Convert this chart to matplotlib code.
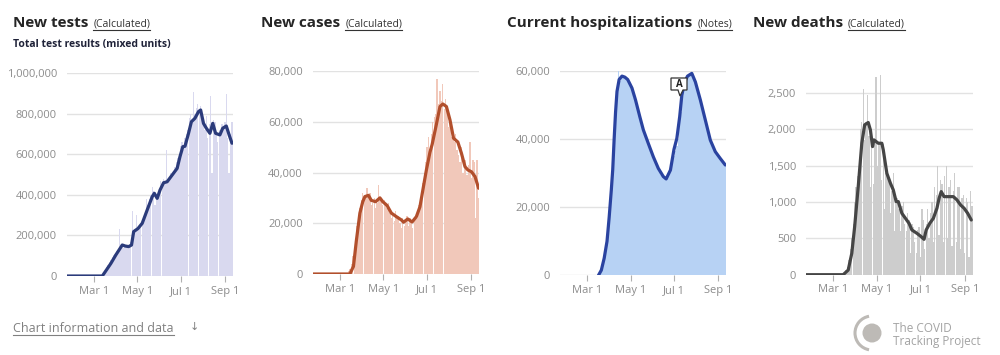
# -*- coding: utf-8 -*-

import numpy as np
import matplotlib
matplotlib.use('Agg')
import matplotlib.pyplot as plt
from matplotlib.ticker import FuncFormatter
from matplotlib.patches import Circle, Arc, Polygon

plt.rcParams['font.family'] = ['Open Sans', 'DejaVu Sans']

#-------------------------------------------------------
# days counted from Jan 1 2020 (Mar 1 = 60)
tick_days = [60, 121, 182, 244]
tick_labels = ['Mar 1', 'May 1', 'Jul 1', 'Sep 1']

# daily bars, one value every 2 days from Mar 1 to Sep 10
bar_days = np.arange(60, 255, 2)

# New tests (thousands)
tests_bars = [0, 0, 0, 0, 0, 0, 5, 15, 30, 45,
              55, 70, 80, 95, 105, 110, 125, 130, 230, 150,
              160, 140, 150, 145, 150, 140, 170, 320, 210, 230,
              300, 230, 240, 255, 270, 280, 300, 380, 350, 380,
              400, 440, 420, 350, 390, 400, 430, 470, 450, 480,
              470, 620, 480, 490, 510, 500, 520, 540, 560, 580,
              570, 640, 660, 620, 680, 700, 720, 780, 800, 770,
              910, 800, 830, 850, 820, 840, 770, 760, 720, 790,
              680, 750, 890, 510, 770, 760, 700, 660, 720, 690,
              750, 720, 760, 900, 680, 510, 700, 760]
tests_line_days = [22, 72, 84, 91, 100, 104, 109, 113, 116, 122, 128, 135, 142, 145, 149,
                   153, 158, 163, 170, 177, 181, 185, 188, 193, 197, 202, 207, 210, 214,
                   218, 223, 227, 231, 237, 241, 246, 250, 254]
tests_line = [0, 0, 62, 104, 153, 148, 145, 153, 219, 234, 260, 326, 391, 408, 383,
              424, 460, 465, 498, 531, 589, 638, 640, 704, 761, 778, 811, 819, 753,
              729, 704, 753, 704, 696, 729, 740, 696, 655]

# New cases (thousands)
cases_bars = [0, 0, 0, 0.1, 0.3, 0.5, 1, 2, 4, 7,
              10, 14, 19, 22, 26, 29, 32, 30, 31, 34,
              30, 32, 27, 28, 30, 26, 28, 35, 30, 29,
              27, 29, 28, 26, 28, 24, 22, 23, 21, 25,
              22, 23, 20, 18, 22, 19, 21, 23, 19, 22,
              20, 18, 21, 23, 22, 27, 28, 32, 36, 40,
              44, 50, 54, 49, 55, 60, 62, 63, 77, 67,
              72, 68, 75, 65, 69, 66, 58, 61, 54, 56,
              52, 55, 49, 47, 44, 50, 40, 42, 45, 39,
              43, 52, 38, 45, 44, 22, 45, 30]
cases_line_days = [22, 74, 79, 83, 88, 92, 95, 100, 104, 110, 116, 120, 126, 132, 139, 146,
                   149, 155, 161, 167, 172, 176, 181, 186, 189, 195, 200, 204, 209, 214,
                   219, 225, 230, 235, 239, 244, 249, 254]
cases_line = [0, 0, 3, 13, 24, 28.5, 30.5, 31, 29, 28.5, 30, 28.5, 27, 24, 22.6, 21.3,
              20.4, 21.7, 20.5, 22.6, 26.5, 33, 41, 48, 51, 59, 66, 67, 66, 60.7,
              53.5, 52, 47.6, 42.3, 41, 40.3, 38.4, 33.8]

# Current hospitalizations (thousands)
hosp_bars = [0, 0, 0, 0, 0, 0, 0, 0, 0.5, 1,
             2, 3.5, 5.5, 7, 10, 14, 18, 23, 30, 38,
             46, 52, 60, 57, 58, 58.5, 58.5, 58, 57.5, 57,
             56, 55, 54, 52, 51, 49, 48, 46.5, 45, 43.5,
             42, 40, 39.5, 38.5, 37, 36, 35, 34, 33, 32,
             31, 30.5, 29.5, 29, 28.5, 28.3, 28.5, 29.5, 30.5, 32,
             33.5, 35, 36.5, 38, 40, 44, 48, 52, 55, 57,
             58, 58.5, 59, 59.5, 59, 58, 56.5, 55, 53.5, 52,
             50.5, 49, 47.5, 45.5, 44, 42, 40, 39, 38, 37,
             36.5, 35.5, 35, 34.5, 34, 33.5, 33, 32]
hosp_line_days = [76, 80, 84, 88, 91, 94, 96, 98, 100, 102, 105, 109, 113, 117, 123,
                  128, 134, 139, 146, 153, 160, 167, 171, 177, 182, 186, 190, 193, 197,
                  201, 207, 212, 219, 226, 233, 240, 247, 254]
hosp_line = [0, 1.5, 5, 10, 17, 25, 31, 40, 48, 54, 57.5, 58.5, 58.2, 57.5, 55,
             51.5, 46.6, 42.7, 38.7, 34.8, 31.4, 29, 28.3, 30.9, 37, 40.2, 46.6, 52.9, 56.8,
             58.5, 59.3, 56.8, 51.5, 45.6, 39.7, 36.3, 34.3, 32.4]

# New deaths
deaths_bars = [0, 0, 0, 0, 0, 0, 0, 0, 20, 60,
               100, 200, 350, 500, 700, 1000, 1200, 1350, 1300, 2000,
               2100, 2550, 1850, 2100, 2470, 1900, 1200, 1900, 1250, 1800,
               2720, 1500, 1800, 2750, 1300, 1800, 900, 1400, 1350, 1300,
               850, 1150, 1400, 600, 1050, 1050, 900, 600, 950, 1000,
               700, 600, 850, 750, 300, 700, 650, 450, 300, 620,
               650, 250, 900, 750, 350, 700, 900, 500, 850, 1000,
               450, 1200, 1100, 1500, 550, 1300, 1250, 450, 1350, 1500,
               500, 1200, 1300, 400, 1150, 1400, 450, 1200, 1200, 350,
               1050, 1100, 300, 1050, 1000, 250, 1150, 950]
deaths_line_days = [22, 74, 81, 86, 90, 95, 100, 104, 109, 112, 115, 117, 123, 128, 130,
                    135, 140, 144, 148, 151, 156, 161, 166, 170, 177, 183, 187, 190, 195,
                    200, 205, 208, 211, 215, 222, 228, 233, 238, 243, 248, 253]
deaths_line = [0, 0, 64, 294, 660, 1211, 1807, 2060, 2092, 1991, 1761, 1853, 1807, 1807, 1716,
               1394, 1257, 1165, 1005, 1005, 844, 775, 706, 615, 569, 523, 486, 615, 706,
               775, 913, 1050, 1142, 1073, 1073, 1073, 1028, 959, 913, 844, 752]

#-------------------------------------------------------
W, H = 1000, 355
fig = plt.figure(figsize=(10, 3.55), dpi=100)
fig.patch.set_facecolor('white')

def px_axes(l, t, r, b):
    return fig.add_axes([l / W, (H - b) / H, (r - l) / W, (b - t) / H])

def kfmt(scale):
    return FuncFormatter(lambda v, p: f'{v * scale:,.0f}')

panels = [
    dict(rect=(66.7, 73.3, 232.7, 276), bars=tests_bars, ld=tests_line_days, lv=tests_line,
         bc='#d9d9ef', lc='#2b3b7b', ylim=1000, yt=[0, 200, 400, 600, 800, 1000], sc=1000, bw=1.85),
    dict(rect=(312.7, 71, 479.3, 274), bars=cases_bars, ld=cases_line_days, lv=cases_line,
         bc='#f1c8ba', lc='#b24f2c', ylim=80, yt=[0, 20, 40, 60, 80], sc=1000, bw=1.85),
    dict(rect=(560, 71, 726, 275.3), bars=hosp_bars, ld=hosp_line_days, lv=hosp_line,
         bc='#b7d2f4', lc='#2a43a0', ylim=60, yt=[0, 20, 40, 60], sc=1000, bw=2.0),
    dict(rect=(806, 71, 972.7, 274.7), bars=deaths_bars, ld=deaths_line_days, lv=deaths_line,
         bc='#cdcdcd', lc='#454545', ylim=2800, yt=[0, 500, 1000, 1500, 2000, 2500], sc=1, bw=1.85),
]

for p in panels:
    ax = px_axes(*p['rect'])
    ax.bar(bar_days, p['bars'], width=p['bw'], color=p['bc'], linewidth=0, zorder=2)
    ax.plot(p['ld'], p['lv'], color=p['lc'], lw=2.3, solid_joinstyle='round',
            solid_capstyle='round', zorder=3)
    ax.set_xlim(22, 255)
    ax.set_ylim(0, p['ylim'])
    ax.set_yticks(p['yt'])
    ax.yaxis.set_major_formatter(kfmt(p['sc']))
    ax.set_xticks(tick_days)
    ax.set_xticklabels(tick_labels)
    ax.grid(axis='y', color='#e2e2e2', lw=1)
    ax.set_axisbelow(True)
    for s in ax.spines.values():
        s.set_visible(False)
    ax.tick_params(axis='y', length=0, pad=7, labelsize=8, labelcolor='#8c8c8c')
    ax.tick_params(axis='x', length=4, width=0.8, color='#b0b0b0', pad=3,
                   labelsize=8, labelcolor='#8c8c8c')

# overlay in pixel coordinates for titles and decorations
ov = fig.add_axes([0, 0, 1, 1], zorder=10)
ov.set_xlim(0, W)
ov.set_ylim(H, 0)
ov.axis('off')

titles = [('New tests', 13, '(Calculated)'),
          ('New cases', 261, '(Calculated)'),
          ('Current hospitalizations', 507, '(Notes)'),
          ('New deaths', 753, '(Calculated)')]

links = []
title_objs = []
for name, x, link in titles:
    t = ov.text(x, 23, name, fontsize=11, fontweight='bold', color='#252525', va='center')
    title_objs.append((t, link))

ov.text(13, 44, 'Total test results (mixed units)', fontsize=7.5, fontweight='bold',
        color='#1f2238', va='center')

fig.canvas.draw()
r = fig.canvas.get_renderer()
for t, link in title_objs:
    bb = t.get_window_extent(r)
    lx = bb.x1 + 5
    lt = ov.text(lx, 24, link, fontsize=7.5, color='#333333', va='center')
    links.append(lt)

info = ov.text(13, 328, 'Chart information and data', fontsize=9, color='#808080', va='center')
ov.text(190, 327, '↓', fontsize=8, color='#808080', va='center')
links.append(info)

fig.canvas.draw()
for lt in links:
    bb = lt.get_window_extent(r)
    yb = H - bb.y0 + 0.5
    ov.plot([bb.x0, bb.x1], [yb, yb], color=lt.get_color(), lw=0.8)

# annotation flag on hospitalizations
ov.add_patch(Polygon([(671, 78), (687, 78), (687, 90), (683, 90), (680, 96), (678, 90), (671, 90)],
                     closed=True, facecolor='white', edgecolor='#333333', lw=0.9, zorder=5))
ov.text(679, 84.5, 'A', fontsize=7, fontweight='bold', color='#222222',
        ha='center', va='center', zorder=6)

# logo
ov.add_patch(Circle((872, 333), 9.5, facecolor='#bdbab6', edgecolor='none'))
ov.add_patch(Arc((872, 333), 34, 34, theta1=100, theta2=260, color='#bdbab6', lw=2.2))
ov.text(893, 328, 'The COVID', fontsize=8.5, color='#a3a3a3', va='center')
ov.text(893, 341, 'Tracking Project', fontsize=8.5, color='#a3a3a3', va='center')

fig.savefig('out.png', dpi=100)
